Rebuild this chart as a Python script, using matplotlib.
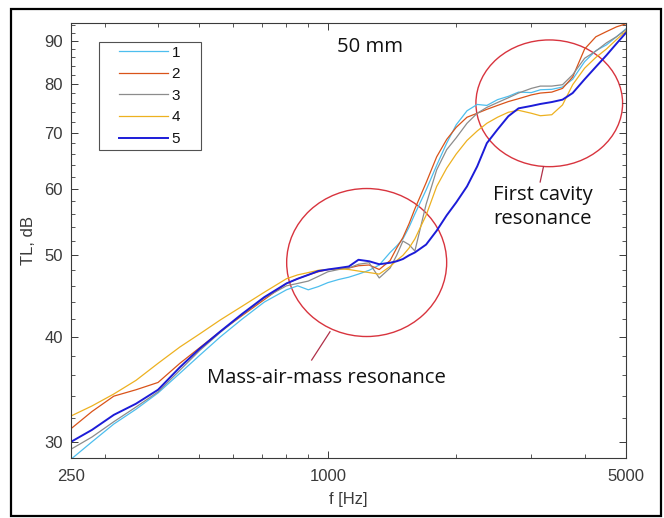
import numpy as np
import matplotlib
matplotlib.use("Agg")
import matplotlib.pyplot as plt
from matplotlib.patches import Ellipse, Rectangle
from matplotlib.ticker import FixedLocator, NullFormatter, FixedFormatter
from matplotlib.legend_handler import HandlerLine2D

freq = [250, 280, 315, 355, 400, 450, 500, 560, 630, 710,
        800, 850, 900, 950, 1000, 1060, 1120, 1180, 1250, 1320,
        1400, 1450, 1500, 1550, 1600, 1700, 1800, 1900, 2000, 2120,
        2240, 2360, 2500, 2650, 2800, 3000, 3150, 3350, 3550, 3750,
        4000, 4250, 4500, 4750, 5000]

tl_1 = [28.6, 30.0, 31.5, 32.8, 34.3, 36.2, 38.0, 40.0, 42.0, 44.0,
        45.5, 46.0, 45.5, 45.9, 46.4, 46.8, 47.1, 47.5, 48.0, 48.7,
        50.4, 51.3, 52.3, 54.0, 56.0, 59.8, 64.0, 68.0, 71.5, 74.3,
        75.6, 75.4, 76.6, 77.3, 78.2, 78.1, 78.7, 78.8, 79.3, 81.0,
        85.0, 87.6, 89.0, 91.0, 93.0]
tl_2 = [31.1, 32.6, 34.0, 34.6, 35.3, 37.2, 38.8, 40.6, 42.4, 44.3,
        46.3, 46.9, 47.4, 47.8, 48.1, 48.2, 48.3, 48.6, 48.7, 48.1,
        49.3, 51.0, 52.5, 54.5, 56.8, 61.0, 65.5, 68.7, 71.0, 73.0,
        73.8, 74.6, 75.4, 76.2, 76.8, 77.6, 78.0, 78.2, 79.0, 81.5,
        88.0, 91.0, 92.3, 93.5, 94.3]
tl_3 = [29.4, 30.4, 31.7, 33.0, 34.4, 36.5, 38.5, 40.5, 42.5, 44.5,
        46.0, 46.3, 46.6, 47.2, 47.8, 48.1, 48.3, 48.8, 49.0, 47.0,
        48.3, 50.0, 52.0, 51.5, 50.6, 57.5, 63.2, 66.8, 69.0, 71.8,
        73.8, 75.0, 76.0, 77.0, 78.0, 79.0, 79.5, 79.5, 79.8, 82.0,
        85.8, 87.5, 89.5, 91.0, 92.8]
tl_4 = [32.2, 33.1, 34.2, 35.5, 37.2, 38.9, 40.3, 41.9, 43.5, 45.2,
        46.9, 47.4, 47.7, 48.0, 48.1, 48.2, 48.1, 47.9, 47.7, 47.5,
        48.5, 49.3, 50.0, 51.0, 52.3, 55.8, 60.4, 63.5, 66.0, 68.5,
        70.3, 71.8, 73.0, 74.0, 74.4, 73.8, 73.3, 73.5, 75.5, 79.8,
        83.5, 86.0, 88.0, 90.3, 92.4]
tl_5 = [30.0, 31.0, 32.3, 33.3, 34.6, 36.8, 38.7, 40.6, 42.6, 44.6,
        46.3, 46.9, 47.4, 47.9, 48.1, 48.3, 48.5, 49.4, 49.2, 48.8,
        49.0, 49.2, 49.5, 50.0, 50.4, 51.5, 53.5, 55.8, 57.8, 60.4,
        63.8, 68.0, 70.6, 73.2, 74.8, 75.3, 75.7, 76.1, 76.6, 78.0,
        81.0, 83.8, 86.5, 89.3, 92.0]

series = [tl_1, tl_2, tl_3, tl_4, tl_5]
labels = ["1", "2", "3", "4", "5"]
colors = ["#4dbeee", "#d95319", "#8c8c8c", "#edb120", "#1c1cd8"]
widths = [0.9, 0.9, 0.9, 0.9, 1.4]

x_major = [250, 1000, 5000]
x_minor = [300, 400, 500, 600, 700, 800, 900, 2000, 3000, 4000]
y_major = [30, 40, 50, 60, 70, 80, 90]
y_minor = list(range(30, 95, 2))

fig = plt.figure(figsize=(6.64, 5.18), dpi=100)
ax = fig.add_axes([0.1069, 0.1158, 0.8358, 0.8398])

for tl, lab, c, w in zip(series, labels, colors, widths):
    ax.plot(freq, tl, color=c, lw=w, label=lab + "    ")

ax.set_xscale("log")
ax.set_yscale("log")
ax.set_xlim(250, 5000)
ax.set_ylim(28.7, 94.5)

ax.xaxis.set_major_locator(FixedLocator(x_major))
ax.xaxis.set_major_formatter(FixedFormatter([str(v) for v in x_major]))
ax.xaxis.set_minor_locator(FixedLocator(x_minor))
ax.xaxis.set_minor_formatter(NullFormatter())
ax.yaxis.set_major_locator(FixedLocator(y_major))
ax.yaxis.set_major_formatter(FixedFormatter([str(v) for v in y_major]))
ax.yaxis.set_minor_locator(FixedLocator(y_minor))
ax.yaxis.set_minor_formatter(NullFormatter())

tcol = "#3a3a3a"
ax.tick_params(which="both", direction="in", top=True, right=True,
               color=tcol, labelcolor=tcol, labelsize=12)
ax.tick_params(which="major", length=5, width=0.7)
ax.tick_params(which="minor", length=3, width=0.6)
ax.tick_params(axis="y", pad=6)
ax.tick_params(axis="x", pad=8)
for t in ax.get_xticklabels() + ax.get_yticklabels():
    t.set_family("Liberation Sans")
for s in ax.spines.values():
    s.set_color(tcol)
    s.set_linewidth(0.8)

ax.set_xlabel("f [Hz]", family="Liberation Sans", fontsize=12, color=tcol, labelpad=6)
ax.set_ylabel("TL, dB", family="Liberation Sans", fontsize=12, color=tcol, labelpad=6)

leg = ax.legend(loc="upper left", bbox_to_anchor=(0.05, 0.957),
                prop={"family": "Liberation Sans", "size": 11},
                handlelength=4.3, handletextpad=0.25, labelspacing=0.5,
                borderpad=0.25, borderaxespad=0, frameon=True, fancybox=False,
                handler_map={plt.Line2D: HandlerLine2D(xpad=1.1)})
leg.get_frame().set_edgecolor("#262626")
leg.get_frame().set_linewidth(0.8)
for t in leg.get_texts():
    t.set_color("#111111")

# annotations
red = "#d8343e"
ax.add_patch(Ellipse((0.5328, 0.4494), 0.2883, 0.3402, transform=ax.transAxes,
                     fill=False, ec=red, lw=1.0))
ax.add_patch(Ellipse((0.8618, 0.8154), 0.2643, 0.2913, transform=ax.transAxes,
                     fill=False, ec=red, lw=1.0))
ax.plot([0.4667, 0.4337], [0.2903, 0.2253], transform=ax.transAxes,
        color="#b03048", lw=0.9)
ax.plot([0.8514, 0.8454], [0.6697, 0.6345], transform=ax.transAxes,
        color="#b03048", lw=0.9)

afont = "Open Sans"
ax.text(0.5387, 0.9448, "50 mm", transform=ax.transAxes, ha="center",
        va="center", fontsize=14.6, family=afont, color="#111111")
ax.text(0.8505, 0.577, "First cavity\nresonance", transform=ax.transAxes,
        ha="center", va="center", fontsize=14.6, family=afont, color="#111111",
        linespacing=1.25)
ax.text(0.4595, 0.184, "Mass-air-mass resonance", transform=ax.transAxes,
        ha="center", va="center", fontsize=14.6, family=afont, color="#111111")

# outer frame
fig.patches.append(Rectangle((0.0166, 0.0039), 0.979, 0.9788,
                             transform=fig.transFigure, fill=False,
                             ec="black", lw=1.6))

fig.savefig("out.png", dpi=100)
